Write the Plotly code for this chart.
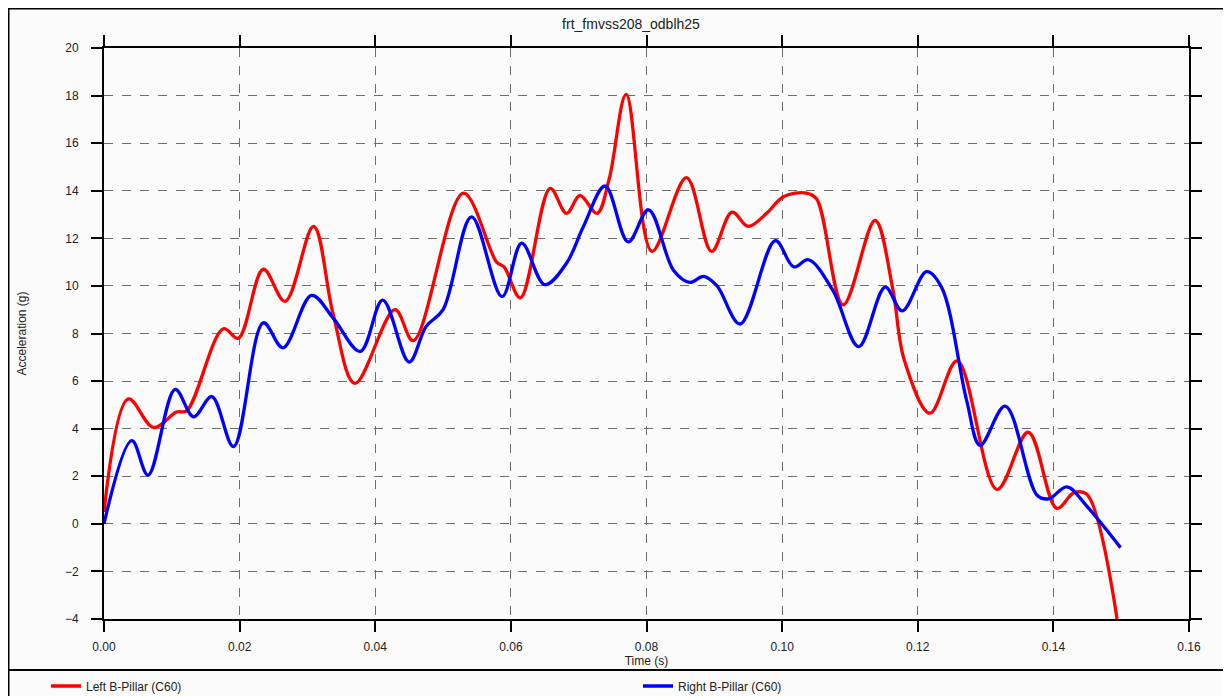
import plotly.graph_objects as go

# ---- data ----
time_left = [0.0, 0.0036, 0.0073, 0.0107, 0.0122, 0.0176, 0.0198, 0.0235, 0.0267, 0.0309,
             0.0338, 0.0370, 0.0429, 0.0456, 0.0530, 0.0579, 0.0590, 0.0614, 0.0658, 0.0682,
             0.0702, 0.0727, 0.0745, 0.0770, 0.0808, 0.0859, 0.0896, 0.0926, 0.0950, 0.0977,
             0.1002, 0.1036, 0.1051, 0.1090, 0.1137, 0.1163, 0.1180, 0.1218, 0.1258, 0.1317,
             0.1363, 0.1405, 0.1430, 0.1449, 0.1494]
accel_left = [0.5, 5.25, 4.05, 4.7, 4.75, 8.2, 7.8, 10.7, 9.35, 12.5,
              8.8, 5.9, 9.0, 7.7, 13.9, 11.0, 10.8, 9.5, 14.1, 13.05,
              13.8, 13.05, 14.5, 18.05, 11.45, 14.55, 11.45, 13.1, 12.5, 13.05,
              13.75, 13.9, 13.65, 9.2, 12.75, 9.9, 6.9, 4.65, 6.85, 1.45,
              3.85, 0.65, 1.3, 1.25, -4.0]

time_right = [0.0, 0.0041, 0.0065, 0.0105, 0.0132, 0.0159, 0.0191, 0.0235, 0.0264, 0.0306,
              0.0338, 0.0378, 0.0411, 0.0450, 0.0475, 0.0500, 0.0542, 0.0587, 0.0616, 0.0650,
              0.0682, 0.0707, 0.0739, 0.0773, 0.0803, 0.0840, 0.0864, 0.0884, 0.0904, 0.0938,
              0.0990, 0.1017, 0.1039, 0.1075, 0.1113, 0.1152, 0.1177, 0.1213, 0.1235, 0.1272,
              0.1292, 0.1329, 0.1376, 0.1393, 0.1420, 0.1449, 0.1499]
accel_right = [0.0, 3.5, 2.05, 5.65, 4.5, 5.35, 3.25, 8.45, 7.4, 9.6,
               8.65, 7.25, 9.4, 6.8, 8.3, 9.0, 12.9, 9.55, 11.8, 10.05,
               10.95, 12.5, 14.2, 11.85, 13.2, 10.65, 10.15, 10.4, 10.0, 8.4,
               11.9, 10.8, 11.1, 9.8, 7.45, 9.95, 8.95, 10.6, 9.95, 5.2,
               3.3, 4.95, 1.2, 1.05, 1.55, 0.75, -1.0]

x_ticks = [0.00, 0.02, 0.04, 0.06, 0.08, 0.10, 0.12, 0.14, 0.16]
y_ticks = [-4, -2, 0, 2, 4, 6, 8, 10, 12, 14, 16, 18, 20]

title_text = "frt_fmvss208_odblh25"
x_title = "Time (s)"
y_title = "Acceleration (g)"
name_left = "Left B-Pillar (C60)"
name_right = "Right B-Pillar (C60)"

# ---- figure (the page adds an 8px body margin; coordinates below are figure px) ----
W, H = 1223, 688
L, R, T, B = 96, 1181, 40, 611
pw, ph = R - L, B - T

def px(x):
    return (x - L) / pw

def py(y):
    return (B - y) / ph

fig = go.Figure()
fig.add_trace(go.Scatter(x=time_left, y=accel_left, mode="lines", name=name_left,
                         line=dict(color="#ff0000", width=3.3, shape="spline", smoothing=1.0),
                         legend="legend", showlegend=True))
fig.add_trace(go.Scatter(x=time_right, y=accel_right, mode="lines", name=name_right,
                         line=dict(color="#0000ff", width=3.3, shape="spline", smoothing=1.0),
                         legend="legend2", showlegend=True))

font = "Liberation Sans, Arial, sans-serif"
txt = "#222222"
axis_common = dict(
    showline=True, linecolor="black", linewidth=2, mirror="ticks",
    ticks="outside", ticklen=11, tickwidth=2, tickcolor="black",
    showgrid=True, gridcolor="#6e6e6e", gridwidth=1, griddash="dash",
    zeroline=False, tickfont=dict(family=font, size=12, color=txt),
)

legend_common = dict(xref="container", yref="container", xanchor="left", yanchor="middle",
                     bgcolor="rgba(0,0,0,0)", font=dict(family=font, size=12, color=txt),
                     orientation="h", borderwidth=0, visible=True)

fig.update_layout(
    width=W, height=H, showlegend=True,
    margin=dict(l=L, r=W - R, t=T, b=H - B, autoexpand=False),
    paper_bgcolor="#fbfbfb", plot_bgcolor="#fbfbfb",
    title=dict(text=title_text, x=623 / W, xanchor="center", xref="container",
               y=1 - 16 / H, yanchor="middle", yref="container",
               font=dict(family=font, size=14, color=txt)),
    xaxis=dict(range=[0, 0.16], tickvals=x_ticks, ticktext=[f"{v:.2f}" for v in x_ticks],
               ticklabelstandoff=5,
               title=dict(text=x_title, standoff=2, font=dict(family=font, size=12, color=txt)),
               **axis_common),
    yaxis=dict(range=[-4, 20], tickvals=y_ticks, ticklabelstandoff=10,
               title=dict(text=y_title, standoff=36, font=dict(family=font, size=12, color=txt)),
               **axis_common),
    legend=dict(x=38 / W, y=1 - 678 / H, **legend_common),
    legend2=dict(x=630 / W, y=1 - 678 / H, **legend_common),
    shapes=[
        dict(type="line", xref="paper", yref="paper", x0=px(0), x1=px(W), y0=py(0), y1=py(0),
             line=dict(color="black", width=3)),
        dict(type="line", xref="paper", yref="paper", x0=px(0), x1=px(0), y0=py(0), y1=py(H),
             line=dict(color="black", width=3)),
        dict(type="line", xref="paper", yref="paper", x0=px(0), x1=px(W), y0=py(662), y1=py(662),
             line=dict(color="black", width=2)),
    ],
)

fig.write_html("out.html")
